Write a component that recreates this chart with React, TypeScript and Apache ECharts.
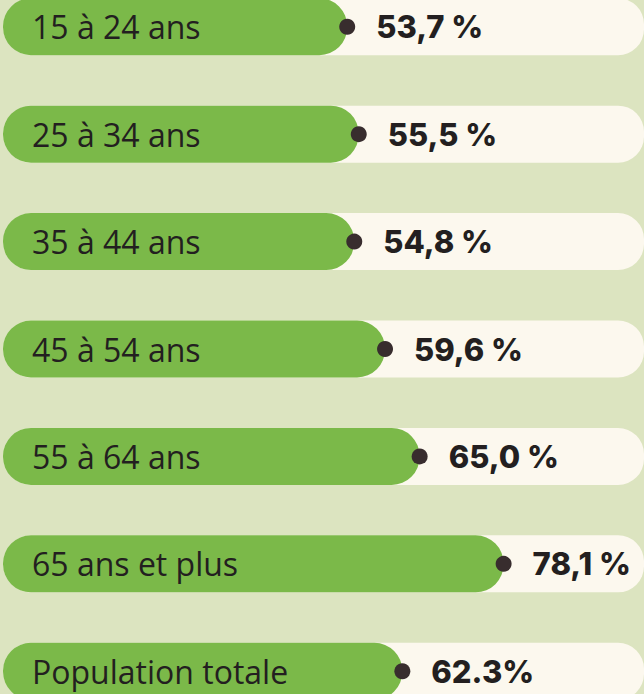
import React, { useEffect, useRef } from "react";
import * as echarts from "echarts";

const categories = [
  "15 à 24 ans",
  "25 à 34 ans",
  "35 à 44 ans",
  "45 à 54 ans",
  "55 à 64 ans",
  "65 ans et plus",
  "Population totale",
];
const values = [53.7, 55.5, 54.8, 59.6, 65.0, 78.1, 62.3];
const valueLabels = ["53,7 %", "55,5 %", "54,8 %", "59,6 %", "65,0 %", "78,1 %", "62.3%"];
const trackValues = [100, 100, 100, 100, 100, 100, 100];

export default function App() {
  const ref = useRef<HTMLDivElement>(null);
  useEffect(() => {
    if (!ref.current) return;
    const chart = echarts.init(ref.current, null, { renderer: "svg" });
    chart.setOption({
      animation: false,
      backgroundColor: "#dce4c0",
      grid: { left: 3, right: 0, top: 0, bottom: 0, containLabel: false },
      xAxis: { type: "value", min: 0, max: 100, show: false },
      yAxis: {
        type: "category",
        data: categories,
        inverse: true,
        show: false,
      },
      series: [
        {
          type: "bar",
          data: trackValues,
          barWidth: 57,
          barGap: "-100%",
          itemStyle: { color: "#fcf8ee", borderRadius: [30, 26, 26, 30] },
          silent: true,
          z: 1,
        },
        {
          type: "bar",
          data: values,
          barWidth: 57,
          barGap: "-100%",
          itemStyle: { color: "#7bb949", borderRadius: 28 },
          label: {
            show: true,
            position: "insideLeft",
            distance: 29,
            formatter: (p: any) => categories[p.dataIndex],
            fontFamily: "Open Sans",
            fontSize: 32,
            color: "#231f20",
          },
          z: 2,
        },
        {
          type: "scatter",
          data: values.map((v, i) => [v, i]),
          symbol: "circle",
          symbolSize: 16,
          itemStyle: { color: "#382d2e", opacity: 1 },
          label: {
            show: true,
            position: "right",
            distance: 21,
            formatter: (p: any) => valueLabels[p.dataIndex],
            fontFamily: "Inter",
            fontWeight: 800,
            fontSize: 31,
            color: "#231f20",
          },
          z: 3,
        },
      ],
    });
    return () => chart.dispose();
  }, []);
  return (
    <div style={{ position: "absolute", left: 0, top: 0, width: 644, height: 694, overflow: "hidden" }}>
      <div ref={ref} style={{ width: 644, height: 752, position: "absolute", left: 0, top: -27 }} />
    </div>
  );
}
